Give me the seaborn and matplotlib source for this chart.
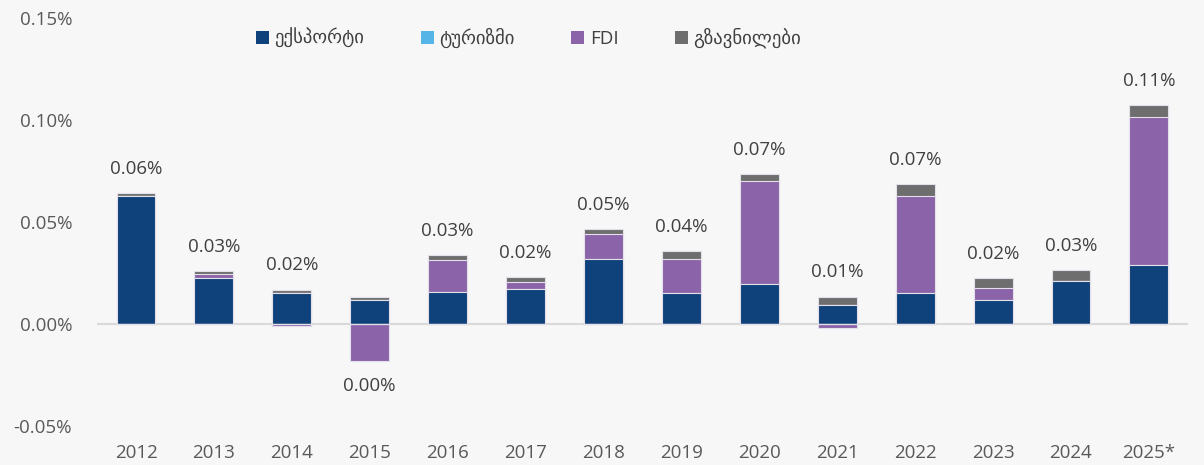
import numpy as np
import pandas as pd
import matplotlib
matplotlib.use("Agg")
import matplotlib.pyplot as plt
from matplotlib.patches import Patch
import seaborn as sns

# values in percent
years = ["2012", "2013", "2014", "2015", "2016", "2017", "2018",
         "2019", "2020", "2021", "2022", "2023", "2024", "2025*"]
export = [0.0627, 0.0227, 0.0152, 0.0116, 0.0157, 0.0172, 0.0319,
          0.0152, 0.0194, 0.0095, 0.0153, 0.0119, 0.0209, 0.0291]
tourism = [0.0, 0.0, 0.0, 0.0, 0.0, 0.0, 0.0,
           0.0, 0.0, 0.0, 0.0, 0.0, 0.0, 0.0]
fdi = [0.0, 0.0019, -0.0012, -0.0181, 0.0155, 0.0034, 0.0122,
       0.0167, 0.0507, -0.0018, 0.0474, 0.0059, 0.0, 0.0725]
remittances = [0.0015, 0.0013, 0.0016, 0.0018, 0.0026, 0.0024, 0.0025,
               0.0039, 0.0034, 0.0039, 0.0058, 0.0047, 0.0056, 0.0056]
total_labels = ["0.06%", "0.03%", "0.02%", "0.00%", "0.03%", "0.02%", "0.05%",
                "0.04%", "0.07%", "0.01%", "0.07%", "0.02%", "0.03%", "0.11%"]

series_names = ["ექსპორტი", "ტურიზმი", "FDI", "გზავნილები"]
colors = ["#0f417a", "#56b4e6", "#8b63a8", "#6e6e6e"]

sns.set_theme(style="white")
plt.rcParams["font.family"] = ["Open Sans", "DejaVu Sans"]
bg = "#f7f7f7"
tick_color = "#595959"
label_color = "#404040"

df = pd.DataFrame({"year": years, "export": export, "tourism": tourism,
                   "fdi": fdi, "remit": remittances})
cols = ["export", "tourism", "fdi", "remit"]
pos = df[cols].clip(lower=0)
neg = df[cols].clip(upper=0)
pos_cum = pos.cumsum(axis=1)
neg_cum = neg.cumsum(axis=1)

fig = plt.figure(figsize=(12.04, 4.65), dpi=100, facecolor=bg)
ax = fig.add_axes([0.0806, 0.084, 0.906, 0.877])
ax.set_facecolor(bg)

# draw stacks back to front so each segment shows its own slice
for cum in (pos_cum, neg_cum):
    for col, color in reversed(list(zip(cols, colors))):
        sns.barplot(x=df["year"], y=cum[col], color=color, width=0.5,
                    order=years, edgecolor="#e4e0ea", linewidth=0.8,
                    saturation=1, ax=ax)

ax.axhline(0, color="#d9d9d9", lw=1.5, zorder=0.5)

totals = pos_cum["remit"] + neg_cum["remit"]
for i, lab in enumerate(total_labels):
    if totals[i] < 0:
        ax.annotate(lab, (i, neg_cum["remit"][i]), xytext=(0, -18),
                    textcoords="offset points", ha="center", va="center",
                    fontsize=13.5, color=label_color)
    else:
        ax.annotate(lab, (i, pos_cum["remit"][i]), xytext=(0, 17.5),
                    textcoords="offset points", ha="center", va="center",
                    fontsize=13.5, color=label_color)

ax.set_ylim(-0.05, 0.15)
ax.set_xlim(-0.5, len(years) - 0.5)
ax.set_yticks([-0.05, 0.0, 0.05, 0.10, 0.15])
ax.set_yticklabels([f"{v:.2f}%" for v in [-0.05, 0.0, 0.05, 0.10, 0.15]])
ax.set_xlabel("")
ax.set_ylabel("")
ax.tick_params(axis="y", length=0, pad=18, labelsize=13.5, labelcolor=tick_color)
ax.tick_params(axis="x", length=0, pad=13, labelsize=13.5, labelcolor=tick_color)
sns.despine(ax=ax, left=True, bottom=True)

handles = [Patch(facecolor=c, edgecolor="none") for c in colors]
fig.legend(handles, series_names, loc="center", bbox_to_anchor=(0.439, 0.918),
           ncol=4, frameon=False, fontsize=13.5, handlelength=0.7,
           handleheight=0.7, handletextpad=0.3, columnspacing=3.0,
           labelcolor=label_color)

fig.savefig("out.png", dpi=100, facecolor=bg)
